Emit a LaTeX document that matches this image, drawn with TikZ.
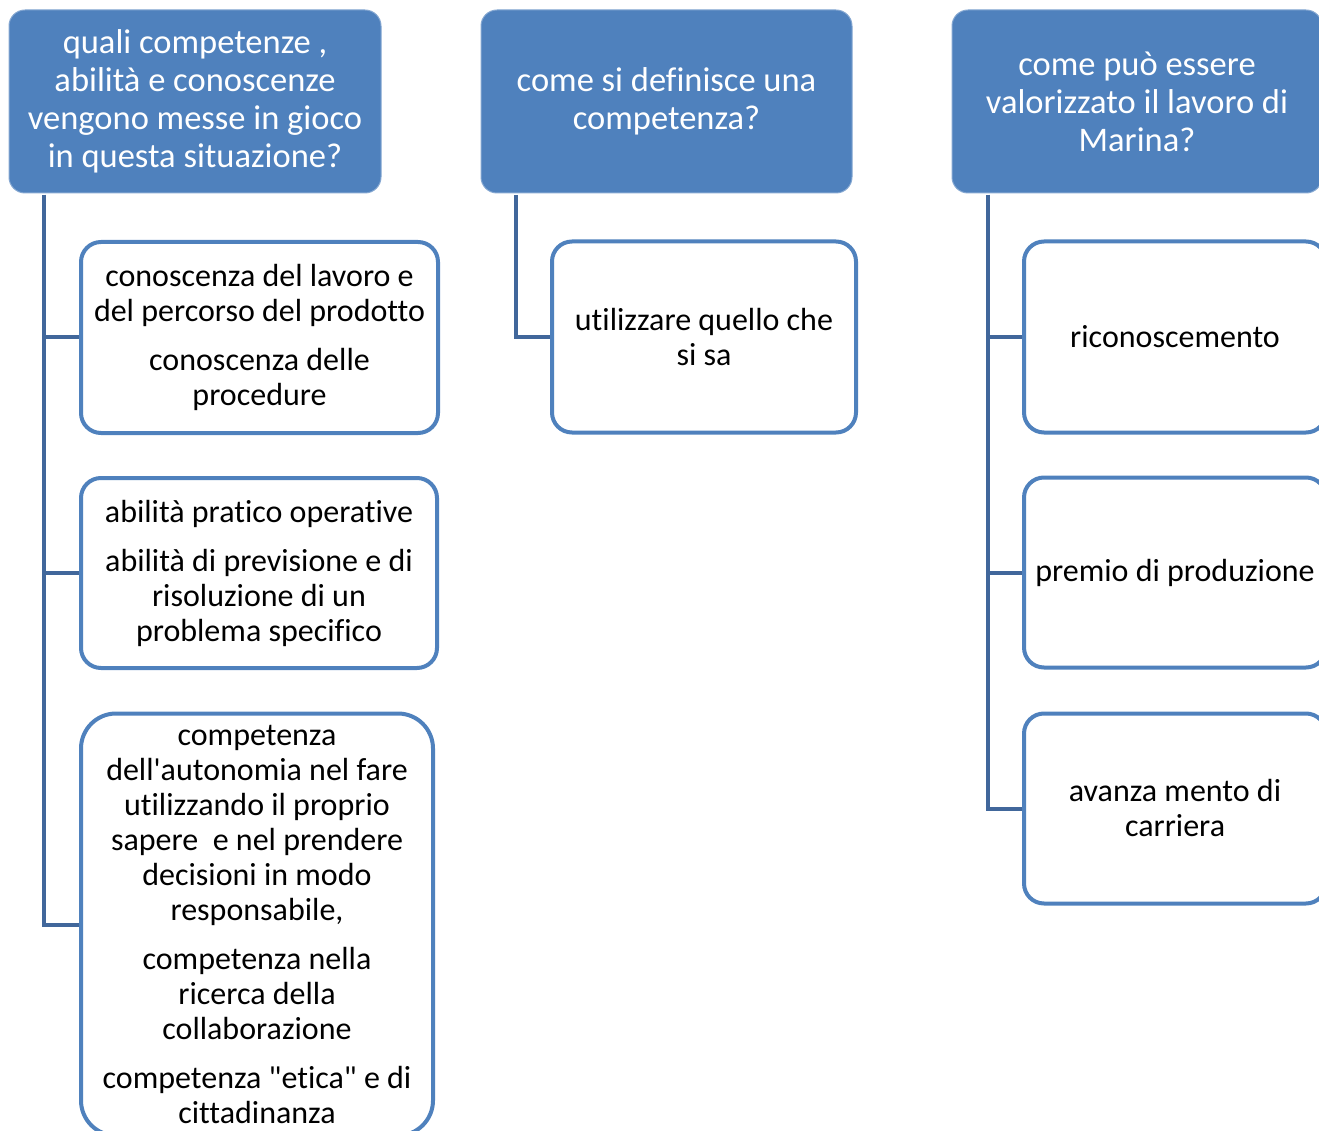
\documentclass[tikz,border=0pt]{standalone}
\usepackage{fontspec}
\newfontfamily\carl{Carlito}[Ligatures={NoCommon}]
\definecolor{hdr}{HTML}{4F81BD}
\definecolor{conn}{HTML}{41679B}
\begin{document}
\begin{tikzpicture}[x=1pt,y=-1pt,
  header/.style={draw=hdr!70!white,line width=1pt,fill=hdr,rounded corners=16pt,text=white,
    align=center,inner sep=0pt,font=\carl\fontsize{34.5}{38}\selectfont},
  child/.style={draw=hdr,line width=4pt,fill=white,text=black,
    align=center,inner sep=0pt,font=\carl\fontsize{32}{35}\selectfont},
  link/.style={draw=conn,line width=4pt}]
\useasboundingbox (0,0) rectangle (1319,1131);
\begin{scope}
\clip (0,0) rectangle (1319,1131);
% headers
\node[header,minimum width=372pt,minimum height=183pt] (h1) at (195,101.5)
  {quali competenze ,\\abilità e conoscenze\\vengono messe in gioco\\in questa situazione?};
\node[header,minimum width=371pt,minimum height=183pt] (h2) at (666.5,101.5)
  {come si definisce una\\competenza?};
\node[header,minimum width=370pt,minimum height=183pt] (h3) at (1137,101.5)
  {come può essere\\valorizzato il lavoro di\\Marina?};
% connector origins
\coordinate (c1) at (44,195);
\coordinate (c2) at (516,195);
\coordinate (c3) at (988,195);
% children column 1
\node[child,rounded corners=20pt,minimum width=357pt,minimum height=191pt] (b11) at (259.5,337.5)
  {conoscenza del lavoro e\\del percorso del prodotto\\[14pt]conoscenza delle\\procedure};
\node[child,rounded corners=20pt,minimum width=356pt,minimum height=190pt] (b12) at (259,573)
  {abilità pratico operative\\[14pt]abilità di previsione e di\\risoluzione di un\\problema specifico};
\node[child,rounded corners=35pt,minimum width=352pt,minimum height=422pt] (b13) at (257,924.5)
  {competenza\\dell'autonomia nel fare\\utilizzando il proprio\\sapere\ \ e nel prendere\\decisioni in modo\\responsabile,\\[14pt]competenza nella\\ricerca della\\collaborazione\\[14pt]competenza "etica" e di\\cittadinanza};
% child column 2
\node[child,rounded corners=20pt,minimum width=304pt,minimum height=191pt] (b21) at (704,337)
  {utilizzare quello che\\si sa};
% children column 3
\node[child,rounded corners=20pt,minimum width=302pt,minimum height=191pt] (b31) at (1175,337)
  {riconoscemento};
\node[child,rounded corners=20pt,minimum width=302pt,minimum height=190pt] (b32) at (1175,572.5)
  {premio di produzione};
\node[child,rounded corners=20pt,minimum width=302pt,minimum height=190pt] (b33) at (1175,808.5)
  {avanza mento di\\carriera};
% connectors
\draw[link] (c1) |- (b13.west);
\draw[link] (c1) |- (b11.west);
\draw[link] (c1) |- (b12.west);
\draw[link] (c2) |- (b21.west);
\draw[link] (c3) |- (b33.west);
\draw[link] (c3) |- (b31.west);
\draw[link] (c3) |- (b32.west);
\end{scope}
\end{tikzpicture}
\end{document}
